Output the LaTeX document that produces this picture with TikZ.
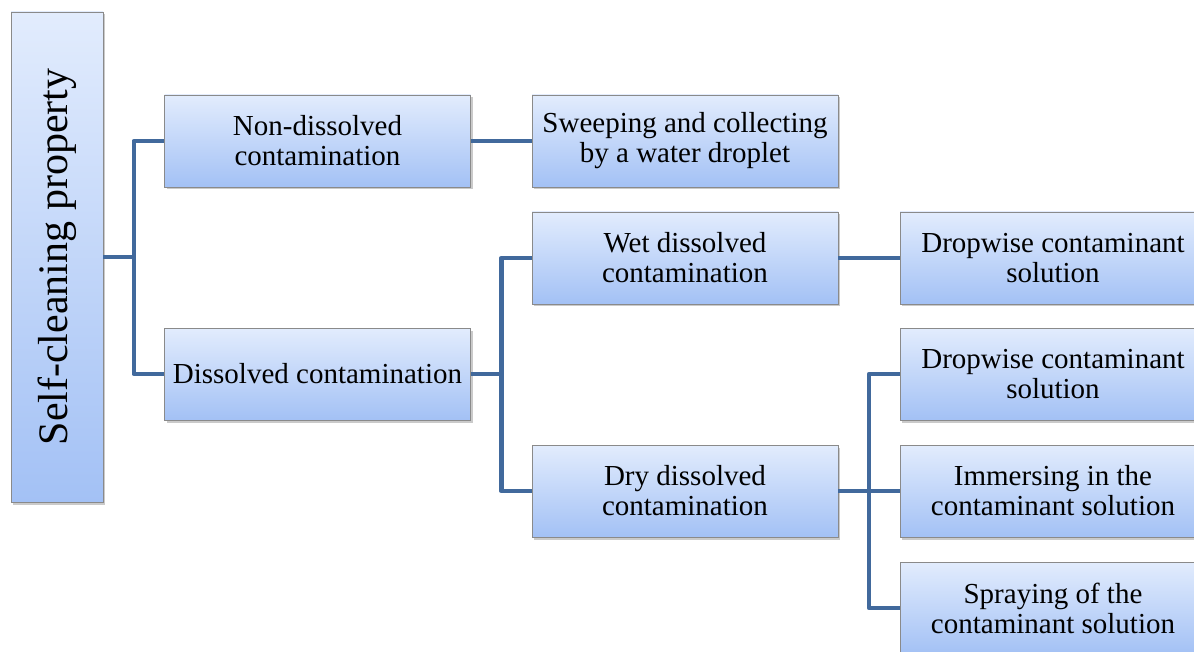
\documentclass[tikz,border=0pt]{standalone}
\usepackage{fontspec}
\setmainfont{Liberation Serif}
\usetikzlibrary{calc,shadows}
\definecolor{boxtop}{HTML}{E2ECFD}
\definecolor{boxbot}{HTML}{A3C1F5}
\definecolor{boxline}{HTML}{8A8A8A}
\definecolor{conncol}{HTML}{41699C}
\tikzset{
  box/.style={draw=boxline, line width=0.8pt, top color=boxtop, bottom color=boxbot,
    minimum width=306pt, minimum height=92pt, inner sep=0pt, align=center,
    font=\fontsize{29}{30}\selectfont,
    drop shadow={shadow xshift=2pt, shadow yshift=-2.5pt, opacity=0.35, fill=black!60}},
  rootbox/.style={box, minimum width=92pt, minimum height=490pt},
  conn/.style={draw=conncol, line width=4.5pt, line join=round, line cap=butt}
}
\begin{document}
\begin{tikzpicture}[x=1pt,y=1pt]
\useasboundingbox (0,0) rectangle (1194,-652);
\node[rootbox] (root) at (57,-257) {};
\node[rotate=90, font=\fontsize{42}{44}\selectfont] (roottext) at (root.center) {Self-cleaning property};
\node[box] (nd) at (317.5,-141) {Non-dissolved\\contamination};
\node[box] (dis) at (317.5,-374) {Dissolved contamination};
\node[box] (sw) at (685,-141) {Sweeping and collecting\\by a water droplet};
\node[box] (wet) at (685,-258) {Wet dissolved\\contamination};
\node[box] (dry) at (685,-491) {Dry dissolved\\contamination};
\node[box] (dw1) at (1053,-258) {Dropwise contaminant\\solution};
\node[box] (dw2) at (1053,-374) {Dropwise contaminant\\solution};
\node[box] (im) at (1053,-491) {Immersing in the\\contaminant solution};
\node[box] (sp) at (1053,-608) {Spraying of the\\contaminant solution};
\coordinate (j1) at ($(root.east)!0.5!(nd.west)$);
\coordinate (j2) at ($(dis.east)!0.5!(wet.west)$);
\coordinate (j3) at ($(dry.east)!0.5!(dw2.west)$);
\draw[conn] (root.east) -- (root.east -| j1);
\draw[conn] (nd.west) -- (nd.west -| j1) |- (dis.west);
\draw[conn] (nd.east) -- (sw.west);
\draw[conn] (dis.east) -- (dis.east -| j2);
\draw[conn] (wet.west) -- (wet.west -| j2) |- (dry.west);
\draw[conn] (wet.east) -- (dw1.west);
\draw[conn] (dry.east) -- (dry.east -| j3);
\draw[conn] (dw2.west) -- (dw2.west -| j3) |- (sp.west);
\draw[conn] (im.west) -- (im.west -| j3);
\end{tikzpicture}
\end{document}
